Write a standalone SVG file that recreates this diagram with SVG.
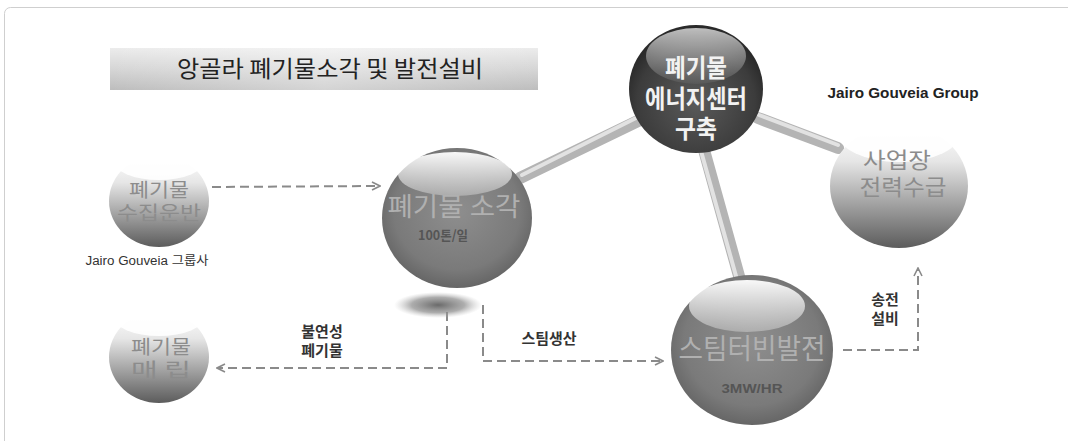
<svg xmlns="http://www.w3.org/2000/svg" width="1068" height="441" viewBox="0 0 1068 441">
<defs>
<style>
.ko{font-family:"Noto Sans CJK KR","Noto Sans",sans-serif;}
.en{font-family:"Liberation Sans",Arial,"Noto Sans CJK KR",sans-serif;}
.dash{fill:none;stroke:#8a8a8a;stroke-width:2;stroke-dasharray:9 5;}
.bar{stroke:#b4b4b4;stroke-width:12;stroke-linecap:round;}
.barhi{stroke:#e2e2e2;stroke-width:4;stroke-linecap:round;}
.lbl{font-size:15px;font-weight:bold;fill:#333;text-anchor:middle;}
.bigtx{fill:#b0b0b0;text-anchor:middle;}
.smtx{fill:#8c8c8c;text-anchor:middle;}
.sub{font-size:13px;font-weight:bold;fill:#555;text-anchor:middle;}
.wt{font-weight:bold;fill:#f2f2f2;text-anchor:middle;}
</style>
<linearGradient id="title" x1="0" y1="0" x2="0" y2="1">
<stop offset="0" stop-color="#ececec"/><stop offset="0.5" stop-color="#d6d6d6"/><stop offset="1" stop-color="#bdbdbd"/>
</linearGradient>
<linearGradient id="titleH" x1="0" y1="0" x2="1" y2="0">
<stop offset="0" stop-color="#ffffff" stop-opacity="0"/><stop offset="0.5" stop-color="#ffffff" stop-opacity="0.35"/><stop offset="1" stop-color="#ffffff" stop-opacity="0"/>
</linearGradient>
<radialGradient id="dark" cx="0.5" cy="0.6" r="0.55">
<stop offset="0" stop-color="#5a5a5a"/><stop offset="0.8" stop-color="#3c3c3c"/><stop offset="1" stop-color="#2a2a2a"/>
</radialGradient>
<radialGradient id="mid" cx="0.5" cy="0.45" r="0.6">
<stop offset="0" stop-color="#8e8e8e"/><stop offset="0.7" stop-color="#7a7a7a"/><stop offset="1" stop-color="#5e5e5e"/>
</radialGradient>
<linearGradient id="hi" x1="0" y1="0" x2="0" y2="1">
<stop offset="0" stop-color="#ffffff" stop-opacity="0.95"/><stop offset="1" stop-color="#ffffff" stop-opacity="0.3"/>
</linearGradient>
<linearGradient id="hidark" x1="0" y1="0" x2="0" y2="1">
<stop offset="0" stop-color="#ffffff" stop-opacity="0.7"/><stop offset="1" stop-color="#ffffff" stop-opacity="0.05"/>
</linearGradient>
<linearGradient id="small" x1="0" y1="0" x2="0" y2="1">
<stop offset="0" stop-color="#ffffff"/><stop offset="0.3" stop-color="#e6e6e6"/><stop offset="1" stop-color="#5c5c5c"/>
</linearGradient>
<radialGradient id="shadow" cx="0.5" cy="0.5" r="0.5">
<stop offset="0" stop-color="#6a6a6a"/><stop offset="0.6" stop-color="#8a8a8a" stop-opacity="0.7"/><stop offset="1" stop-color="#bbbbbb" stop-opacity="0"/>
</radialGradient>
<marker id="arr" viewBox="0 0 10 10" refX="9" refY="5" markerWidth="10" markerHeight="10" markerUnits="userSpaceOnUse" orient="auto">
<path d="M1,1 L9,5 L1,9" fill="none" stroke="#8a8a8a" stroke-width="1.6"/>
</marker>
</defs>
<rect width="1068" height="441" fill="#ffffff"/>
<rect x="4.5" y="7.5" width="1090" height="460" rx="6" fill="none" stroke="#cfcfcf" stroke-width="1"/>

<g id="title-bar">
<rect x="110" y="48" width="428" height="42" fill="url(#title)"/>
<rect x="110" y="48" width="428" height="42" fill="url(#titleH)"/>
<text x="330" y="77" class="ko" font-size="23" fill="#222" text-anchor="middle" textLength="306" lengthAdjust="spacingAndGlyphs">앙골라 폐기물소각 및 발전설비</text>
</g>

<g id="connectors">
<line class="bar" x1="520" y1="178" x2="640" y2="120"/>
<line class="barhi" x1="522" y1="175" x2="638" y2="117"/>
<line class="bar" x1="704" y1="150" x2="739" y2="276"/>
<line class="barhi" x1="701" y1="151" x2="736" y2="276"/>
<line class="bar" x1="758" y1="118" x2="838" y2="148"/>
<line class="barhi" x1="759" y1="115" x2="838" y2="145"/>
<path class="dash" d="M212,187 L380,186" marker-end="url(#arr)"/>
<path class="dash" d="M447,312 L447,368 L217,368" marker-end="url(#arr)"/>
<path class="dash" d="M483,305 L483,361 L663,361" marker-end="url(#arr)"/>
<path class="dash" d="M843,350 L918,350 L918,268" marker-end="url(#arr)"/>
<text class="ko lbl"><tspan x="322" y="337">불연성</tspan><tspan x="322" y="356">폐기물</tspan></text>
<text x="549" y="344" class="ko lbl">스팀생산</text>
<text class="ko lbl"><tspan x="885" y="305">송전</tspan><tspan x="885" y="324">설비</tspan></text>
</g>

<g id="node-center">
<ellipse cx="696" cy="89" rx="67" ry="64" fill="url(#dark)"/>
<ellipse cx="696" cy="56" rx="50" ry="28" fill="url(#hidark)"/>
<text class="ko wt" font-size="25"><tspan x="696" y="77" textLength="62" lengthAdjust="spacingAndGlyphs">폐기물</tspan><tspan x="696" y="108" textLength="102" lengthAdjust="spacingAndGlyphs">에너지센터</tspan><tspan x="696" y="138" textLength="42" lengthAdjust="spacingAndGlyphs">구축</tspan></text>
</g>

<g id="label-group">
<text x="903" y="98" class="en" font-size="14.5" font-weight="bold" fill="#222" text-anchor="middle" textLength="151" lengthAdjust="spacingAndGlyphs">Jairo Gouveia Group</text>
</g>

<g id="node-power">
<ellipse cx="899" cy="186" rx="69" ry="62" fill="url(#small)"/>
<ellipse cx="899" cy="132" rx="62" ry="30" fill="#ffffff" opacity="0.9"/>
<text class="ko smtx" font-size="22"><tspan x="897" y="168" textLength="68" lengthAdjust="spacingAndGlyphs">사업장</tspan><tspan x="903" y="195" textLength="87" lengthAdjust="spacingAndGlyphs">전력수급</tspan></text>
</g>

<g id="node-collect">
<ellipse cx="159" cy="201" rx="50" ry="46" fill="url(#small)"/>
<ellipse cx="159" cy="160" rx="46" ry="20" fill="#ffffff" opacity="0.9"/>
<text class="ko smtx" font-size="19"><tspan x="159" y="197" textLength="60" lengthAdjust="spacingAndGlyphs">폐기물</tspan><tspan x="159" y="220" textLength="84" lengthAdjust="spacingAndGlyphs">수집운반</tspan></text>
<text x="147" y="265" class="en" font-size="12" fill="#333" text-anchor="middle" textLength="123" lengthAdjust="spacingAndGlyphs">Jairo Gouveia 그룹사</text>
</g>

<g id="node-landfill">
<ellipse cx="159" cy="357" rx="50" ry="46" fill="url(#small)"/>
<ellipse cx="159" cy="316" rx="46" ry="20" fill="#ffffff" opacity="0.9"/>
<text class="ko smtx" font-size="19"><tspan x="161" y="354" textLength="60" lengthAdjust="spacingAndGlyphs">폐기물</tspan><tspan x="161" y="377" textLength="60" lengthAdjust="spacingAndGlyphs">매  립</tspan></text>
</g>

<g id="node-incinerate">
<ellipse cx="457" cy="218" rx="75" ry="70" fill="url(#mid)"/>
<ellipse cx="455" cy="174" rx="57" ry="22" fill="url(#hi)"/>
<ellipse cx="438" cy="305" rx="44" ry="13" fill="url(#shadow)"/>
<text class="ko"><tspan x="454" y="216" class="bigtx" font-size="26" textLength="133" lengthAdjust="spacingAndGlyphs">폐기물 소각</tspan><tspan x="443" y="240" class="sub" textLength="50" lengthAdjust="spacingAndGlyphs">100톤/일</tspan></text>
</g>

<g id="node-turbine">
<ellipse cx="752" cy="350" rx="81" ry="75" fill="url(#mid)"/>
<ellipse cx="747" cy="306" rx="58" ry="26" fill="url(#hi)"/>
<text class="ko"><tspan x="752" y="359" class="bigtx" font-size="28" textLength="147" lengthAdjust="spacingAndGlyphs">스팀터빈발전</tspan><tspan x="752" y="393" class="sub" font-family="Liberation Sans, Arial, sans-serif" font-size="14" textLength="61" lengthAdjust="spacingAndGlyphs">3MW/HR</tspan></text>
</g>
</svg>
